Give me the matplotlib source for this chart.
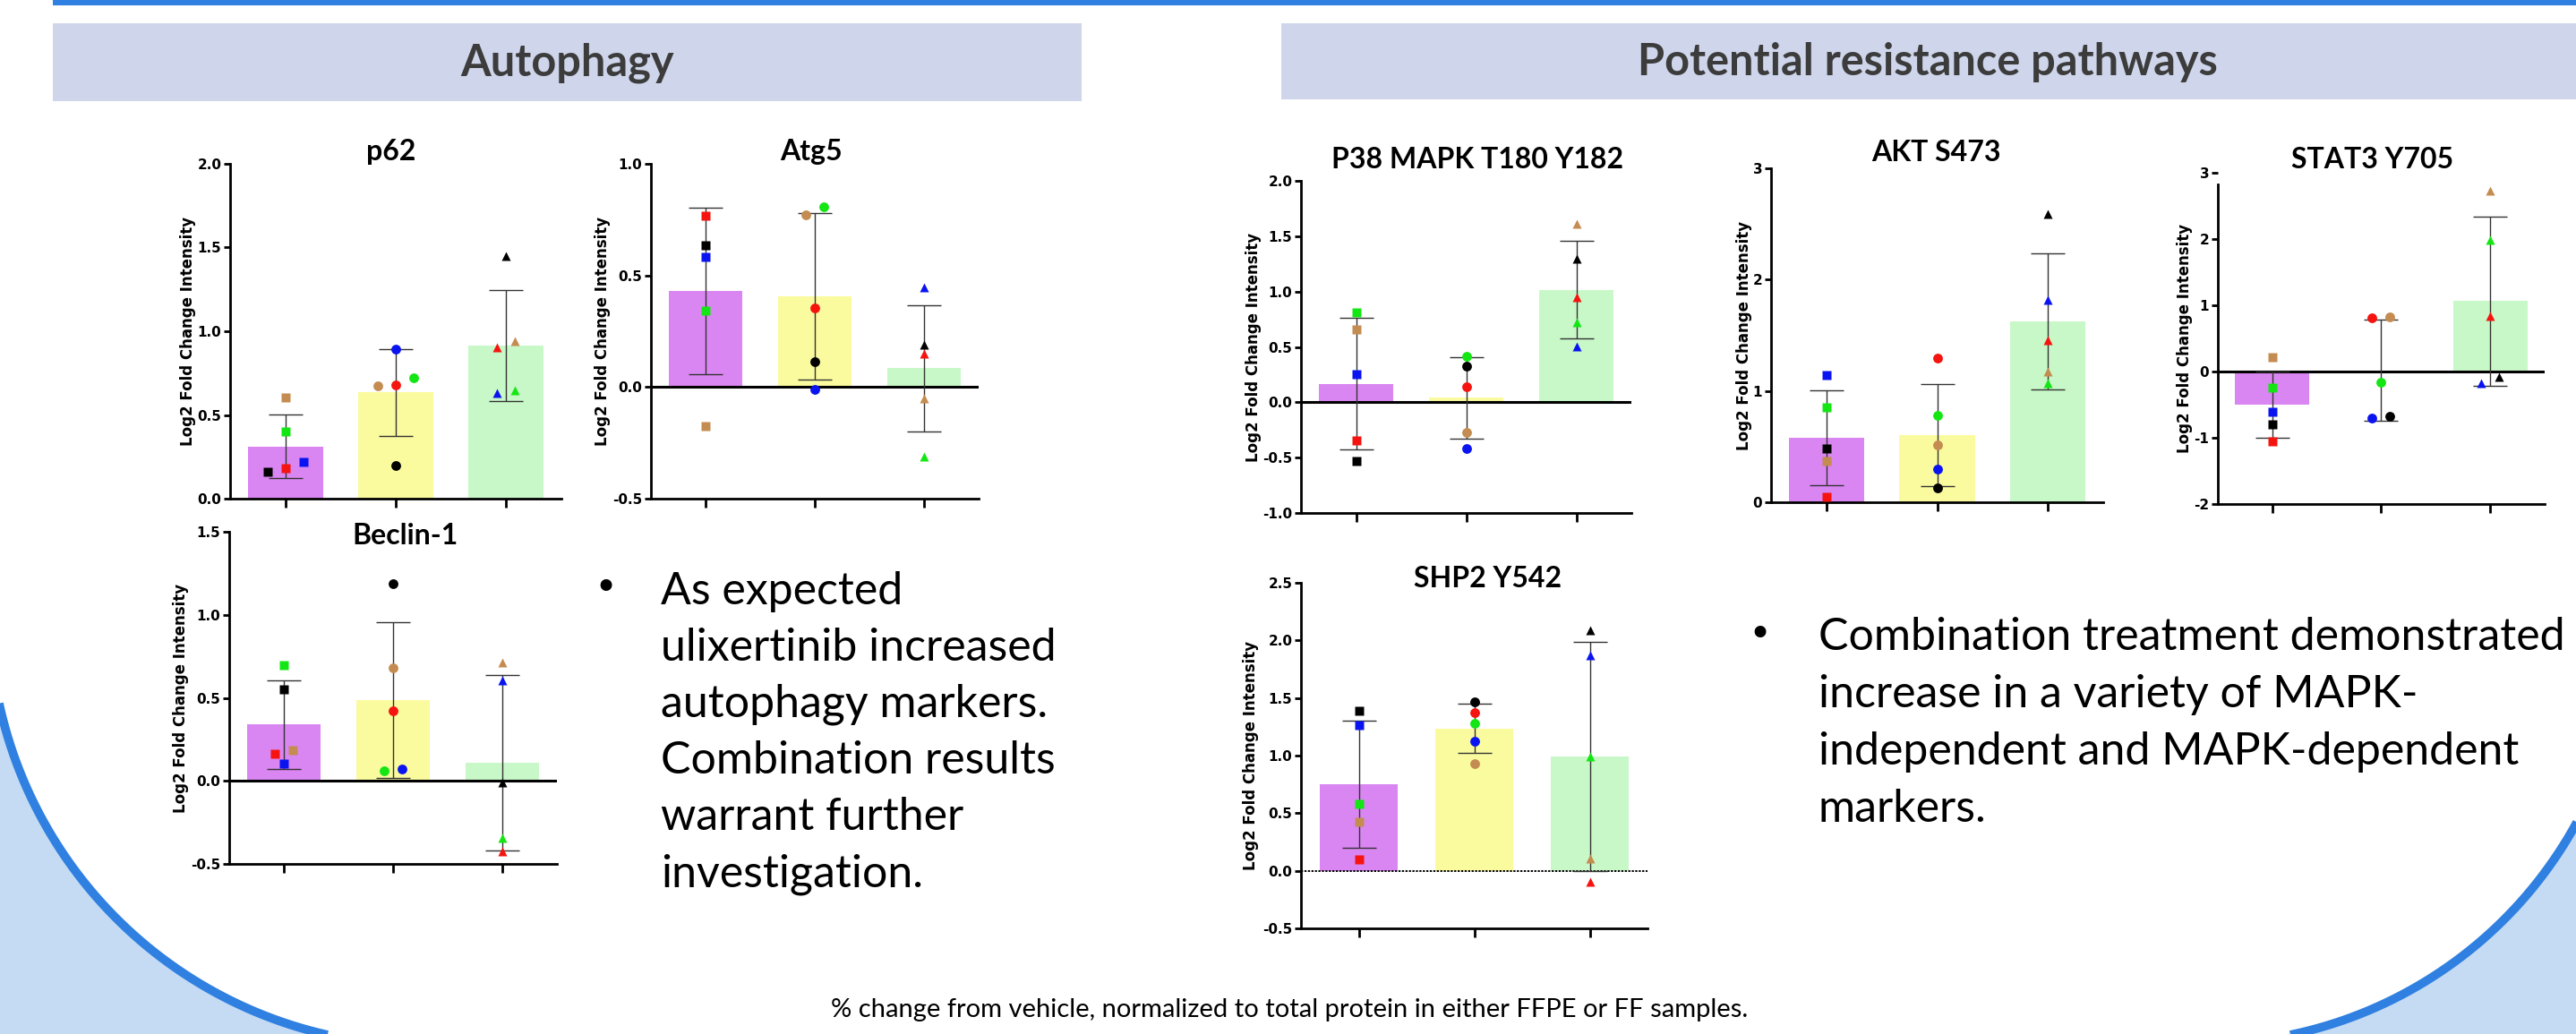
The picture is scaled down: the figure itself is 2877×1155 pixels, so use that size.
import numpy as np
import matplotlib
matplotlib.use("Agg")
import matplotlib.pyplot as plt
from matplotlib.patches import Rectangle, Polygon

plt.rcParams["axes.unicode_minus"] = False

W, H = 2877, 1155

# sample colours, same order in every group: black, blue, red, green, tan
point_colors = ["#000000", "#0a14f0", "#f5140f", "#14e614", "#c48c50"]
bar_colors = ["#da86f2", "#fafa9e", "#c8f8c8"]
markers = ["s", "o", "^"]

# log2 fold change, one row per treatment group
p62 = [[0.159, 0.217, 0.180, 0.401, 0.606],
       [0.200, 0.895, 0.681, 0.720, 0.676],
       [1.451, 0.631, 0.902, 0.649, 0.943]]
atg5 = [[0.635, 0.583, 0.769, 0.342, -0.176],
        [0.114, -0.012, 0.354, 0.806, 0.770],
        [0.191, 0.445, 0.148, -0.310, -0.049]]
beclin1 = [[0.551, 0.104, 0.163, 0.697, 0.185],
           [1.185, 0.074, 0.422, 0.061, 0.682],
           [-0.007, 0.607, -0.425, -0.345, 0.711]]
p38 = [[-0.530, 0.256, -0.347, 0.808, 0.654],
       [0.323, -0.415, 0.143, 0.417, -0.269],
       [1.300, 0.506, 0.950, 0.721, 1.610]]
akt = [[0.483, 1.140, 0.048, 0.853, 0.370],
       [0.129, 0.295, 1.296, 0.778, 0.518],
       [2.590, 1.820, 1.457, 1.073, 1.175]]
stat3 = [[-0.802, -0.608, -1.059, -0.239, 0.212],
         [-0.680, -0.703, 0.811, -0.162, 0.829],
         [-0.081, -0.171, 0.842, 1.982, 2.734]]
shp2 = [[1.391, 1.262, 0.096, 0.583, 0.427],
        [1.469, 1.127, 1.373, 1.282, 0.930],
        [2.091, 1.870, -0.098, 0.995, 0.109]]

ylabel = "Log2 Fold Change Intensity"
section_titles = ["Autophagy", "Potential resistance pathways"]
left_lines = ["As expected", "ulixertinib increased", "autophagy markers.",
              "Combination results", "warrant further", "investigation."]
right_lines = ["Combination treatment demonstrated", "increase in a variety of MAPK-",
               "independent and MAPK-dependent", "markers."]
footnote = "% change from vehicle, normalized to total protein in either FFPE or FF samples."

# title, data, (ymin, ymax, step), box px (x0, x1, ytop, ybottom), title centre, ylabel x, zero line
panels = [
    ("p62", p62, (0, 2.0, 0.5), (257, 627, 183, 557), (437, 170), 210, None),
    ("Atg5", atg5, (-0.5, 1.0, 0.5), (727, 1093, 183, 557), (906, 170), 673, "-"),
    ("Beclin-1", beclin1, (-0.5, 1.5, 0.5), (256, 622, 594, 965), (452, 598), 202, "-"),
    ("P38 MAPK T180 Y182", p38, (-1.0, 2.0, 0.5), (1453, 1822, 202, 573), (1650, 178), 1400, "-"),
    ("AKT S473", akt, (0, 3, 1), (1978, 2349, 188, 561), (2162, 170), 1948, None),
    ("STAT3 Y705", stat3, (-2, 3, 1), (2477, 2842, 193, 563), (2650, 178), 2440, "-"),
    ("SHP2 Y542", shp2, (-0.5, 2.5, 0.5), (1453, 1840, 651, 1037), (1662, 647), 1397, ":"),
]

fig = plt.figure(figsize=(W / 100, H / 100), dpi=100)

# background decoration in pixel coordinates
bg = fig.add_axes([0, 0, 1, 1], zorder=-10)
bg.set_xlim(0, W)
bg.set_ylim(H, 0)
bg.axis("off")

edge_blue = "#2f80e0"
fill_blue = "#c5dbf4"
bg.add_patch(Rectangle((59, 0), W - 59, 6, color=edge_blue, lw=0))
bg.add_patch(Rectangle((59, 26), 1149, 87, color="#cfd6eb", lw=0))
bg.add_patch(Rectangle((1431, 26), W - 1431, 85, color="#cfd6eb", lw=0))


def corner_arc(cx, cy, r, t0, t1, corner):
    t = np.radians(np.linspace(t0, t1, 300))
    xs = cx + r * np.cos(t)
    ys = cy + r * np.sin(t)
    pts = np.vstack([np.column_stack([xs, ys]), corner])
    bg.add_patch(Polygon(pts, closed=True, fc=fill_blue, ec="none"))
    bg.plot(xs, ys, color=edge_blue, lw=7, solid_capstyle="butt")


corner_arc(473, 683, 485, 180, 90, [(473, H + 60), (-60, H + 60), (-60, 683)])
corner_arc(2461, 691, 475, 0, 90, [(2461, H + 60), (W + 60, H + 60), (W + 60, 691)])

hdr = dict(family="Lato", weight="bold", size=35, color="#3c3c3c", ha="center", va="center")
bg.text(634, 70, section_titles[0], **hdr)
bg.text(2153, 70, section_titles[1], **hdr)

body = dict(family="Lato", size=36, color="black", va="baseline")
bullet = dict(family="DejaVu Sans", size=32, color="black", ha="center", va="center")
bg.text(676, 658, "\u2022", **bullet)
for i, line in enumerate(left_lines):
    bg.text(738, 675 + i * 63, line, ha="left", **body)
bg.text(1965, 709, "\u2022", **bullet)
for i, line in enumerate(right_lines):
    bg.text(2031, 726 + i * 64, line, ha="left", **body)

bg.text(1440, 1128, footnote, family="Lato", size=21, color="black", ha="center", va="center")


def swarm(vals, px_per_unit, gap=10.0, step=20.0):
    order = np.argsort(vals)
    offs = np.zeros(len(vals))
    groups = [[order[0]]]
    for i in order[1:]:
        if (vals[i] - vals[groups[-1][-1]]) * px_per_unit < gap:
            groups[-1].append(i)
        else:
            groups.append([i])
    for g in groups:
        n = len(g)
        for k, i in enumerate(g):
            offs[i] = (k - (n - 1) / 2) * step
    return offs


for title, data, (ymin, ymax, step), (x0, x1, yt, yb), (tx, ty), lx, zero in panels:
    ax = fig.add_axes([x0 / W, 1 - yb / H, (x1 - x0) / W, (yb - yt) / H])
    ax.set_facecolor("none")
    ax.set_xlim(-0.5, 2.5)
    ax.set_ylim(ymin, ymax)
    px_x = (x1 - x0) / 3.0
    px_y = (yb - yt) / (ymax - ymin)

    vals = np.array(data)
    means = vals.mean(axis=1)
    sds = vals.std(axis=1, ddof=1)
    xs = np.arange(3)
    ax.bar(xs, means, width=0.68, color=bar_colors, zorder=1)
    ax.errorbar(xs, means, yerr=sds, fmt="none", ecolor="#333333", elinewidth=1.0,
                capsize=14, capthick=1.0, zorder=3)
    for g in range(3):
        offs = swarm(vals[g], px_y) / px_x
        for k in range(5):
            ax.plot(g + offs[k], vals[g][k], marker=markers[g], ms=7.8, color=point_colors[k],
                    mec="none", ls="none", zorder=4)

    if zero == "-":
        ax.axhline(0, color="black", lw=2.2, zorder=2)
    elif zero == ":":
        ax.axhline(0, color="black", lw=1.4, ls=(0, (1.2, 0.8)), zorder=2)

    for s in ("top", "right"):
        ax.spines[s].set_visible(False)
    for s in ("left", "bottom"):
        ax.spines[s].set_linewidth(2.0)
    if title == "STAT3 Y705":
        ax.spines["left"].set_bounds(ymin, 2.82)

    ticks = np.arange(ymin, ymax + step / 2, step)
    ax.set_yticks(ticks)
    fmt = "%d" if step >= 1 else "%.1f"
    ax.set_yticklabels([fmt % t for t in ticks], family="DejaVu Sans", weight="bold", size=11)
    ax.set_xticks(xs)
    ax.set_xticklabels([])
    ax.tick_params(axis="y", length=5, width=2, pad=2)
    ax.tick_params(axis="x", length=7, width=2)

    bg.text(tx, ty, title, family="Lato", weight="bold", size=23, ha="center", va="center")
    bg.text(lx, (yt + yb) / 2, ylabel, family="DejaVu Sans", weight="bold", size=12,
            rotation=90, ha="center", va="center")

fig.savefig("out.png", dpi=100)
